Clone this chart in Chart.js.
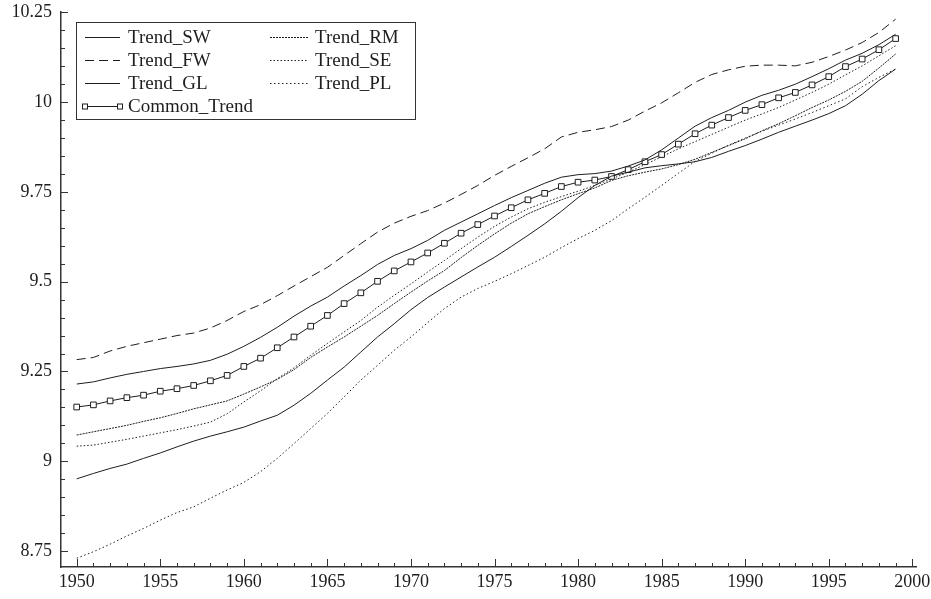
<!DOCTYPE html>
<html>
<head>
<meta charset="utf-8">
<script src="https://cdn.jsdelivr.net/npm/chart.js@4"></script>
<style>
html,body{margin:0;padding:0;background:#fff;}
#wrap{width:931px;height:599px;position:relative;}
canvas{display:block;}
</style>
</head>
<body>
<div id="wrap"><canvas id="c" width="931" height="599"></canvas></div>
<script>
const years = [1950,1951,1952,1953,1954,1955,1956,1957,1958,1959,
  1960,1961,1962,1963,1964,1965,1966,1967,1968,1969,
  1970,1971,1972,1973,1974,1975,1976,1977,1978,1979,
  1980,1981,1982,1983,1984,1985,1986,1987,1988,1989,
  1990,1991,1992,1993,1994,1995,1996,1997,1998,1999];

const trendSW = [9.215,9.221,9.232,9.242,9.250,9.258,9.264,9.271,9.281,9.298,
  9.320,9.345,9.373,9.404,9.432,9.457,9.488,9.517,9.548,9.573,
  9.592,9.615,9.643,9.666,9.689,9.712,9.734,9.754,9.774,9.791,
  9.798,9.801,9.808,9.822,9.839,9.867,9.900,9.933,9.957,9.977,
  10.000,10.019,10.033,10.050,10.071,10.093,10.117,10.136,10.160,10.189];

const trendFW = [9.283,9.289,9.307,9.320,9.330,9.340,9.350,9.357,9.371,9.392,
  9.417,9.436,9.461,9.488,9.514,9.540,9.573,9.606,9.638,9.663,
  9.682,9.698,9.719,9.743,9.768,9.796,9.821,9.845,9.870,9.903,
  9.916,9.923,9.932,9.950,9.975,9.998,10.026,10.055,10.077,10.090,
  10.100,10.103,10.103,10.101,10.111,10.127,10.145,10.166,10.194,10.231];

const trendGL = [8.951,8.966,8.980,8.992,9.008,9.023,9.040,9.056,9.070,9.082,
  9.095,9.112,9.128,9.156,9.189,9.226,9.262,9.304,9.346,9.383,
  9.422,9.456,9.485,9.513,9.541,9.568,9.598,9.629,9.661,9.696,
  9.734,9.768,9.794,9.805,9.817,9.823,9.828,9.834,9.846,9.863,
  9.879,9.897,9.916,9.933,9.950,9.968,9.990,10.022,10.060,10.092];

const commonTrend = [9.151,9.157,9.168,9.177,9.184,9.195,9.202,9.211,9.224,9.239,
  9.264,9.287,9.316,9.346,9.376,9.406,9.439,9.469,9.501,9.530,
  9.555,9.580,9.607,9.635,9.659,9.683,9.706,9.728,9.746,9.765,
  9.777,9.783,9.793,9.812,9.834,9.854,9.883,9.912,9.936,9.957,
  9.977,9.993,10.012,10.027,10.048,10.071,10.099,10.120,10.146,10.177];

const trendRM = [9.073,9.082,9.091,9.100,9.111,9.121,9.133,9.146,9.157,9.168,
  9.187,9.207,9.228,9.255,9.289,9.318,9.346,9.376,9.406,9.439,
  9.471,9.502,9.531,9.567,9.601,9.633,9.663,9.689,9.709,9.728,
  9.745,9.761,9.782,9.795,9.805,9.814,9.826,9.841,9.860,9.879,
  9.898,9.920,9.940,9.962,9.985,10.006,10.030,10.058,10.095,10.134];

const trendSE = [9.042,9.045,9.053,9.061,9.070,9.079,9.088,9.098,9.109,9.132,
  9.165,9.196,9.230,9.260,9.295,9.328,9.360,9.392,9.429,9.462,
  9.494,9.527,9.559,9.592,9.624,9.654,9.680,9.703,9.721,9.737,
  9.752,9.768,9.786,9.805,9.826,9.848,9.870,9.890,9.910,9.930,
  9.950,9.967,9.985,10.006,10.027,10.050,10.076,10.101,10.129,10.157];

const trendPL = [8.730,8.748,8.769,8.792,8.813,8.836,8.857,8.873,8.897,8.920,
  8.941,8.971,9.008,9.049,9.091,9.133,9.179,9.226,9.267,9.309,
  9.346,9.386,9.425,9.457,9.481,9.501,9.522,9.545,9.568,9.595,
  9.620,9.643,9.670,9.703,9.735,9.768,9.802,9.835,9.858,9.880,
  9.900,9.919,9.936,9.953,9.971,9.990,10.009,10.043,10.069,10.092];

const xTickLabels = [1950,1955,1960,1965,1970,1975,1980,1985,1990,1995,2000];
const yTickLabels = [8.75,9,9.25,9.5,9.75,10,10.25];

const INK = '#1e1e1e';
const FONT = '"Liberation Serif", "Times New Roman", serif';

function pts(arr){ return years.map((yr,i)=>({x:yr, y:arr[i]})); }

const seriesDefs = [
  {label:'Trend_SW', data:trendSW, dash:[], col:0, row:0},
  {label:'Trend_FW', data:trendFW, dash:[9,5], col:0, row:1},
  {label:'Trend_GL', data:trendGL, dash:[], col:0, row:2},
  {label:'Common_Trend', data:commonTrend, dash:[], col:0, row:3, marker:true},
  {label:'Trend_RM', data:trendRM, dash:[2,1], col:1, row:0},
  {label:'Trend_SE', data:trendSE, dash:[1.5,2], col:1, row:1},
  {label:'Trend_PL', data:trendPL, dash:[1.5,2.5], col:1, row:2}
];

const datasets = seriesDefs.map(s=>({
  label:s.label,
  data:pts(s.data),
  borderColor:INK,
  borderWidth:1,
  borderDash:s.dash,
  pointStyle:'rect',
  pointRadius:s.marker?4:0,
  pointBorderWidth:1,
  pointBorderColor:INK,
  pointBackgroundColor:'#fff',
  tension:0,
  fill:false
}));

const tickPlugin = {
  id:'tickPlugin',
  afterDraw(chart){
    const {ctx, chartArea:a, scales:{x,y}} = chart;
    ctx.save();
    ctx.strokeStyle = '#333';
    ctx.lineWidth = 1;
    ctx.beginPath();
    // x ticks every year, longer every 5
    for (let yr = 1950; yr <= 2000; yr++) {
      const px = Math.round(x.getPixelForValue(yr)) + 0.5;
      const len = (yr % 5 === 0) ? 8 : 4;
      ctx.moveTo(px, a.bottom);
      ctx.lineTo(px, a.bottom - len);
    }
    // y ticks every 0.05, longer every 0.25
    for (let k = 0; k <= 30; k++) {
      const v = 8.75 + k * 0.05;
      const py = Math.round(y.getPixelForValue(v)) + 0.5;
      const len = (k % 5 === 0) ? 7 : 4;
      ctx.moveTo(a.left, py);
      ctx.lineTo(a.left + len, py);
    }
    ctx.stroke();
    ctx.restore();
  }
};

const legendPlugin = {
  id:'boxLegend',
  afterDraw(chart){
    const ctx = chart.ctx;
    const bx = 76, by = 22, bw = 339, bh = 97;
    ctx.save();
    ctx.fillStyle = '#fff';
    ctx.fillRect(bx, by, bw, bh);
    ctx.strokeStyle = '#333';
    ctx.lineWidth = 1;
    ctx.strokeRect(bx + 0.5, by + 0.5, bw, bh);
    ctx.font = '19px ' + FONT;
    ctx.textBaseline = 'middle';
    ctx.fillStyle = INK;
    const rowY = [37, 60, 83, 106];
    const colX = [{s:85, e:120, t:128}, {s:270, e:308, t:315}];
    seriesDefs.forEach(s=>{
      const c = colX[s.col], yy = rowY[s.row] + 0.5;
      ctx.strokeStyle = INK;
      ctx.lineWidth = 1;
      ctx.setLineDash(s.dash);
      ctx.beginPath();
      ctx.moveTo(c.s, yy);
      ctx.lineTo(c.e, yy);
      ctx.stroke();
      ctx.setLineDash([]);
      if (s.marker) {
        [c.s, c.e].forEach(mx=>{
          ctx.fillStyle = '#fff';
          ctx.fillRect(mx - 2.5, yy - 2.5, 5, 5);
          ctx.strokeRect(mx - 2.5, yy - 2.5, 5, 5);
        });
      }
      ctx.fillStyle = INK;
      ctx.fillText(s.label, c.t, rowY[s.row] + 1);
    });
    ctx.restore();
  }
};

new Chart(document.getElementById('c'), {
  type:'line',
  data:{datasets},
  plugins:[tickPlugin, legendPlugin],
  options:{
    responsive:false,
    animation:false,
    devicePixelRatio:1,
    layout:{padding:{left:0, top:12, right:15, bottom:0}},
    plugins:{legend:{display:false}, tooltip:{enabled:false}},
    scales:{
      x:{
        type:'linear',
        min:1949.06, max:2000.22,
        afterBuildTicks(s){ s.ticks = xTickLabels.map(v=>({value:v})); },
        afterFit(s){ s.height = 32; s.paddingLeft = 0; s.paddingRight = 0; },
        grid:{display:false, drawTicks:false},
        border:{display:true, color:'#333', width:1.5},
        ticks:{
          color:INK, padding:4, maxRotation:0, autoSkip:false,
          font:{family:FONT, size:18},
          callback:v=>String(v)
        }
      },
      y:{
        type:'linear',
        min:8.7055, max:10.251,
        afterBuildTicks(s){ s.ticks = yTickLabels.map(v=>({value:v})); },
        afterFit(s){ s.width = 61; s.paddingTop = 0; s.paddingBottom = 0; },
        grid:{display:false, drawTicks:false},
        border:{display:true, color:'#333', width:1.5},
        ticks:{
          color:INK, padding:9, autoSkip:false,
          font:{family:FONT, size:18},
          callback:v=>String(v)
        }
      }
    }
  }
});
</script>
</body>
</html>
